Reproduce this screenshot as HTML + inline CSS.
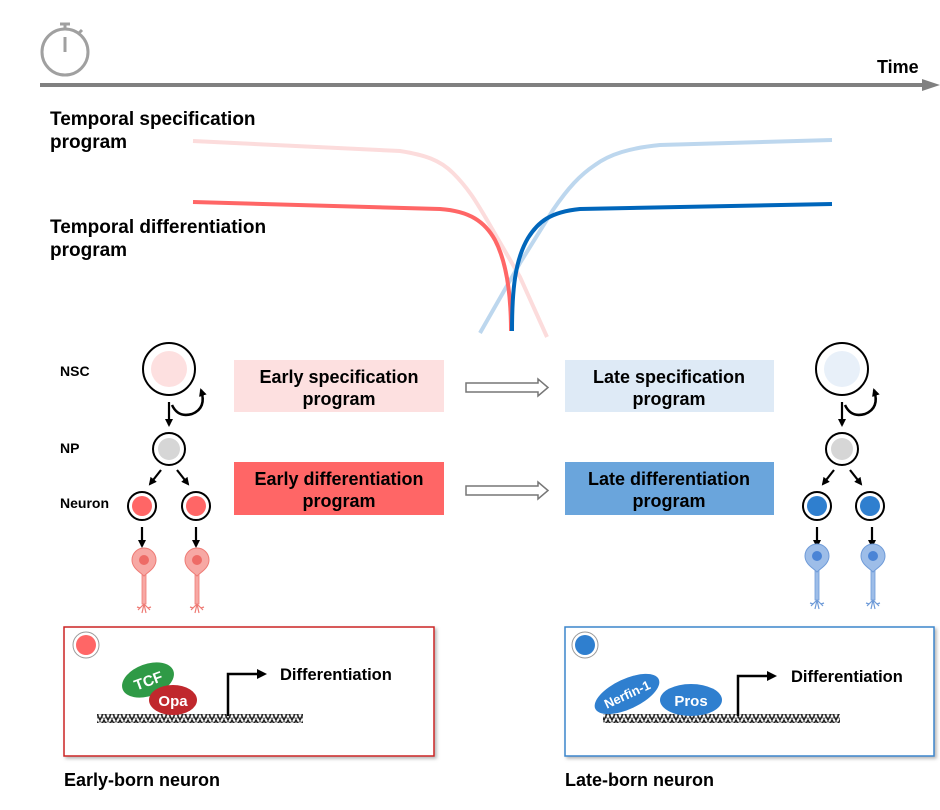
<!DOCTYPE html>
<html><head><meta charset="utf-8"><style>
body{margin:0;background:#fff;}
svg{display:block;font-family:"Liberation Sans",Arial,sans-serif;font-weight:bold;}
</style></head><body>
<svg width="940" height="810" viewBox="0 0 940 810" xmlns="http://www.w3.org/2000/svg">
<defs>
<marker id="ah" markerWidth="8" markerHeight="8" refX="6" refY="4" orient="auto" markerUnits="userSpaceOnUse"><path d="M0,0 L8,4 L0,8 Z" fill="#000"/></marker>
<g id="neuronR">
<path d="M-2,10 L-2,44 L2,44 L2,10 Z" fill="#f7a8a4" stroke="#ee7b75" stroke-width="0.8"/>
<path d="M0,44 L-6,50 M0,44 L6,50 M0,44 L-2,53 M0,44 L2,53 M-4,48 L-7,47 M4,48 L7,47" stroke="#ee7b75" stroke-width="1.2" fill="none"/>
<path d="M0,16 C-4,12 -12,8 -12,0 A12,12 0 1 1 12,0 C12,8 4,12 0,16 Z" fill="#f7a8a4" stroke="#ee7b75" stroke-width="1"/>
<circle cx="0" cy="0" r="5" fill="#ee6b66"/>
</g>
<g id="neuronB">
<path d="M-2,10 L-2,44 L2,44 L2,10 Z" fill="#9dbde8" stroke="#6f9bd8" stroke-width="0.8"/>
<path d="M0,44 L-6,50 M0,44 L6,50 M0,44 L-2,53 M0,44 L2,53 M-4,48 L-7,47 M4,48 L7,47" stroke="#6f9bd8" stroke-width="1.2" fill="none"/>
<path d="M0,16 C-4,12 -12,8 -12,0 A12,12 0 1 1 12,0 C12,8 4,12 0,16 Z" fill="#9dbde8" stroke="#6f9bd8" stroke-width="1"/>
<circle cx="0" cy="0" r="5" fill="#4a84d6"/>
</g>
<pattern id="dna" width="8" height="8" patternUnits="userSpaceOnUse"><path d="M0,0 L4,8 L8,0" fill="none" stroke="#222" stroke-width="1.6"/><path d="M0,8 L4,0 L8,8" fill="none" stroke="#555" stroke-width="1"/></pattern>
<filter id="sh"><feDropShadow dx="2" dy="2" stdDeviation="1.5" flood-color="#888" flood-opacity="0.6"/></filter>
</defs>

<!-- timer -->
<g stroke="#a0a0a0" fill="none" stroke-width="3">
<circle cx="65" cy="52" r="23"/>
<line x1="65" y1="37" x2="65" y2="52"/>
<line x1="65" y1="24" x2="65" y2="29"/>
<line x1="60" y1="24" x2="70" y2="24"/>
<line x1="79" y1="33" x2="82" y2="30"/>
</g>
<line x1="40" y1="85" x2="925" y2="85" stroke="#808080" stroke-width="4"/>
<path d="M922,79 L940,85 L922,91 Z" fill="#808080"/>
<text x="877" y="73" font-size="18">Time</text>

<text x="50" y="125" font-size="19">Temporal specification</text>
<text x="50" y="148" font-size="19">program</text>
<text x="50" y="233" font-size="19">Temporal differentiation</text>
<text x="50" y="256" font-size="19">program</text>

<!-- curves -->
<path d="M193,141 L400,151 C425,155 440,160 453,173 C470,190 478,205 487,220 L520,277 L547,337" fill="none" stroke="#fcdcdc" stroke-width="4"/>
<path d="M480,333 L520,263 L553,210 C568,188 580,175 595,165 C610,154 630,148 660,145 L832,140" fill="none" stroke="#bdd7ee" stroke-width="4"/>
<path d="M193,202 L440,209 C470,211 485,222 495,240 C508,265 511,300 511,331" fill="none" stroke="#ff6666" stroke-width="4"/>
<path d="M512,331 C512,290 515,260 528,238 C538,222 550,212 580,209 L832,204" fill="none" stroke="#0066bb" stroke-width="4"/>

<!-- lineage -->
<g font-size="14">
<text x="60" y="376">NSC</text>
<text x="60" y="453">NP</text>
<text x="60" y="508">Neuron</text>
</g>
<g stroke="#000" stroke-width="2" fill="none">
<circle cx="169" cy="369" r="26" fill="#fff"/>
<circle cx="842" cy="369" r="26" fill="#fff"/>
<circle cx="169" cy="449" r="16" fill="#fff"/>
<circle cx="842" cy="449" r="16" fill="#fff"/>
<circle cx="142" cy="506" r="14" fill="#fff"/>
<circle cx="196" cy="506" r="14" fill="#fff"/>
<circle cx="817" cy="506" r="14" fill="#fff"/>
<circle cx="870" cy="506" r="14" fill="#fff"/>
<path d="M172,405 Q178,418 192,414 Q207,408 201,390" stroke-width="2.5" marker-end="url(#ah)"/>
<path d="M845,405 Q851,418 865,414 Q880,408 874,390" stroke-width="2.5" marker-end="url(#ah)"/>
<line x1="169" y1="402" x2="169" y2="425" stroke-width="2.2" marker-end="url(#ah)"/>
<line x1="842" y1="402" x2="842" y2="425" stroke-width="2.2" marker-end="url(#ah)"/>
<line x1="161" y1="470" x2="150" y2="484" stroke-width="2.2" marker-end="url(#ah)"/>
<line x1="177" y1="470" x2="188" y2="484" stroke-width="2.2" marker-end="url(#ah)"/>
<line x1="834" y1="470" x2="823" y2="484" stroke-width="2.2" marker-end="url(#ah)"/>
<line x1="850" y1="470" x2="861" y2="484" stroke-width="2.2" marker-end="url(#ah)"/>
<line x1="142" y1="527" x2="142" y2="546" stroke-width="2.2" marker-end="url(#ah)"/>
<line x1="196" y1="527" x2="196" y2="546" stroke-width="2.2" marker-end="url(#ah)"/>
<line x1="817" y1="527" x2="817" y2="546" stroke-width="2.2" marker-end="url(#ah)"/>
<line x1="872" y1="527" x2="872" y2="546" stroke-width="2.2" marker-end="url(#ah)"/>
</g>
<circle cx="169" cy="369" r="18" fill="#fde0e0"/>
<circle cx="842" cy="369" r="18" fill="#e8f0f9"/>
<circle cx="169" cy="449" r="11" fill="#d6d6d6"/>
<circle cx="842" cy="449" r="11" fill="#d6d6d6"/>
<circle cx="142" cy="506" r="10" fill="#ff6666"/>
<circle cx="196" cy="506" r="10" fill="#ff6666"/>
<circle cx="817" cy="506" r="10" fill="#2f7fcf"/>
<circle cx="870" cy="506" r="10" fill="#2f7fcf"/>
<use href="#neuronR" x="144" y="560"/>
<use href="#neuronR" x="197" y="560"/>
<use href="#neuronB" x="817" y="556"/>
<use href="#neuronB" x="873" y="556"/>

<!-- program boxes -->
<rect x="234" y="360" width="210" height="52" fill="#fde0e0"/>
<rect x="565" y="360" width="209" height="52" fill="#deeaf6"/>
<rect x="234" y="462" width="210" height="53" fill="#ff6666"/>
<rect x="565" y="462" width="209" height="53" fill="#6aa5dc"/>
<g font-size="18" text-anchor="middle">
<text x="339" y="383">Early specification</text>
<text x="339" y="405">program</text>
<text x="669" y="383">Late specification</text>
<text x="669" y="405">program</text>
<text x="339" y="485">Early differentiation</text>
<text x="339" y="507">program</text>
<text x="669" y="485">Late differentiation</text>
<text x="669" y="507">program</text>
</g>
<g fill="#fff" stroke="#777" stroke-width="1.5">
<path d="M466,383 L538,383 L538,379 L548,387.5 L538,396 L538,392 L466,392 Z"/>
<path d="M466,486 L538,486 L538,482 L548,490.5 L538,499 L538,495 L466,495 Z"/>
</g>

<!-- bottom boxes -->
<rect x="64" y="627" width="370" height="129" fill="#fff" stroke="#cc2222" stroke-width="1.5" filter="url(#sh)"/>
<rect x="565" y="627" width="369" height="129" fill="#fff" stroke="#3a86cc" stroke-width="1.5" filter="url(#sh)"/>
<circle cx="86" cy="645" r="13" fill="#fff" stroke="#999" stroke-width="1"/>
<circle cx="86" cy="645" r="10" fill="#ff6666"/>
<circle cx="585" cy="645" r="13" fill="#fff" stroke="#999" stroke-width="1"/>
<circle cx="585" cy="645" r="10" fill="#2f7fcf"/>

<rect x="97" y="714" width="206" height="9" fill="url(#dna)"/>
<rect x="603" y="714" width="237" height="9" fill="url(#dna)"/>

<ellipse cx="148" cy="680" rx="27" ry="16" transform="rotate(-20 148 680)" fill="#2f9a46"/>
<text x="148" y="686" font-size="15" fill="#fff" text-anchor="middle" transform="rotate(-20 148 680)">TCF</text>
<ellipse cx="173" cy="700" rx="24" ry="15" fill="#c0282d"/>
<text x="173" y="706" font-size="15" fill="#fff" text-anchor="middle">Opa</text>

<ellipse cx="627" cy="694" rx="35" ry="15" transform="rotate(-25 627 694)" fill="#2f7fcf"/>
<text x="627" y="699" font-size="13" fill="#fff" text-anchor="middle" transform="rotate(-25 627 694)">Nerfin-1</text>
<ellipse cx="691" cy="700" rx="31" ry="16" fill="#2f7fcf"/>
<text x="691" y="706" font-size="15" fill="#fff" text-anchor="middle">Pros</text>

<path d="M228,716 L228,674 L258,674" fill="none" stroke="#000" stroke-width="2.5"/>
<path d="M257,669 L267,674 L257,679 Z"/>
<text x="280" y="680" font-size="16.5">Differentiation</text>
<path d="M738,716 L738,676 L768,676" fill="none" stroke="#000" stroke-width="2.5"/>
<path d="M767,671 L777,676 L767,681 Z"/>
<text x="791" y="682" font-size="16.5">Differentiation</text>

<text x="64" y="786" font-size="18">Early-born neuron</text>
<text x="565" y="786" font-size="18">Late-born neuron</text>
</svg>
</body></html>
